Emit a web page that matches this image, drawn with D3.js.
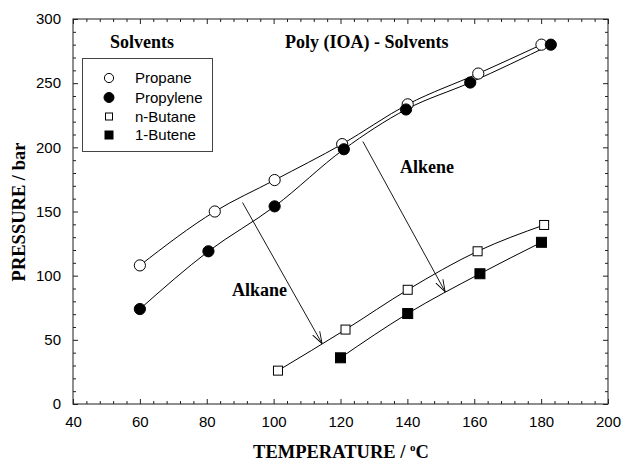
<!DOCTYPE html>
<html>
<head>
<meta charset="utf-8" />
<style>
	body { margin: 0; background: #fff; }
	.tick text { font-family: 'Liberation Sans', Arial, sans-serif; font-size: 15px; fill: #000; }
	.axis path { stroke: #444; }
	.axis line { stroke: #222; }
	.serifb { font-family: 'Liberation Serif', 'Times New Roman', serif; font-weight: bold; fill: #000; }
	.legtext { font-family: 'Liberation Sans', Arial, sans-serif; font-size: 15px; fill: #000; }
	.curve { fill: none; stroke: #000; stroke-width: 1px; }
</style>
</head>
<body>
<script src="https://cdnjs.cloudflare.com/ajax/libs/d3/7.8.5/d3.min.js"></script>
<script>

//// data ////
var propane   = [[60,108],[82.4,150],[100.3,174.5],[120.5,202.5],[140.1,233.5],[161.2,257.5],[180.1,280]];
var propylene = [[60,74],[80.5,119],[100.3,154],[121,198.5],[139.6,229.5],[158.8,250.5],[182.9,280]];
var nButane   = [[101.3,26],[121.5,58],[140.1,89],[161,119],[180.9,139.5]];
var butene1   = [[120,36],[140.1,70.5],[161.7,101.5],[180.1,126]];

var xTicks = [40, 60, 80, 100, 120, 140, 160, 180, 200];
var yTicks = [0, 50, 100, 150, 200, 250, 300];

// arrows [x1,y1,x2,y2] in data units
var arrowAlkane = [90.7, 157, 114.5, 47];
var arrowAlkene = [126.7, 204.5, 151.3, 87.5];

var width = 622, height = 463;
var svg = d3.select("body").append("svg")
	.attr("width", width)
	.attr("height", height);

var x = d3.scaleLinear().domain([40, 200]).range([73, 608]);
var y = d3.scaleLinear().domain([0, 300]).range([404, 19]);

var xMinor = d3.range(40, 201, 4).filter(function(d) { return d % 20 != 0; });
var yMinor = d3.range(0, 301, 10).filter(function(d) { return d % 50 != 0; });

// frame
svg.append("rect")
	.attr("x", x(40)).attr("y", y(300))
	.attr("width", x(200) - x(40)).attr("height", y(0) - y(300))
	.attr("fill", "none").attr("stroke", "#444").attr("stroke-width", 1.2);

// axes, ticks point inwards
function ticks(axisFn, pos, vals, size, labels) {
	var g = svg.append("g").attr("class", "axis").attr("transform", pos);
	g.call(axisFn.tickValues(vals).tickSizeInner(-size).tickSizeOuter(0)
		.tickPadding(labels ? size + 7 : 0)
		.tickFormat(labels ? d3.format("d") : ""));
	g.select(".domain").remove();
	return g;
}
ticks(d3.axisBottom(x), "translate(0," + y(0) + ")", xTicks, 5, true);
ticks(d3.axisBottom(x), "translate(0," + y(0) + ")", xMinor, 3, false);
ticks(d3.axisTop(x), "translate(0," + y(300) + ")", xTicks, 5, false);
ticks(d3.axisTop(x), "translate(0," + y(300) + ")", xMinor, 3, false);
ticks(d3.axisLeft(y), "translate(" + x(40) + ",0)", yTicks, 5, true);
ticks(d3.axisLeft(y), "translate(" + x(40) + ",0)", yMinor, 3, false);
ticks(d3.axisRight(y), "translate(" + x(200) + ",0)", yTicks, 5, false);
ticks(d3.axisRight(y), "translate(" + x(200) + ",0)", yMinor, 3, false);

// curves
var line = d3.line()
	.x(function(d) { return x(d[0]); })
	.y(function(d) { return y(d[1]); })
	.curve(d3.curveMonotoneX);

[propane, propylene, nButane, butene1].forEach(function(s) {
	svg.append("path").datum(s).attr("class", "curve").attr("d", line);
});

// arrows
svg.append("defs").append("marker")
	.attr("id", "vhead")
	.attr("viewBox", "0 0 12 10")
	.attr("refX", 12).attr("refY", 5)
	.attr("markerWidth", 12).attr("markerHeight", 10)
	.attr("markerUnits", "userSpaceOnUse")
	.attr("orient", "auto")
	.append("path")
	.attr("d", "M0,1 L12,5 L0,9")
	.attr("fill", "none").attr("stroke", "#000").attr("stroke-width", 0.9);

[arrowAlkane, arrowAlkene].forEach(function(a) {
	svg.append("line")
		.attr("x1", x(a[0])).attr("y1", y(a[1]))
		.attr("x2", x(a[2])).attr("y2", y(a[3]))
		.attr("stroke", "#000").attr("stroke-width", 0.9)
		.attr("marker-end", "url(#vhead)");
});

// markers
function circles(data, fill, r) {
	svg.append("g").selectAll("circle").data(data).enter().append("circle")
		.attr("cx", function(d) { return x(d[0]); })
		.attr("cy", function(d) { return y(d[1]); })
		.attr("r", r)
		.attr("fill", fill).attr("stroke", "#000").attr("stroke-width", 1);
}
function squares(data, fill, s) {
	svg.append("g").selectAll("rect").data(data).enter().append("rect")
		.attr("x", function(d) { return x(d[0]) - s / 2; })
		.attr("y", function(d) { return y(d[1]) - s / 2; })
		.attr("width", s).attr("height", s)
		.attr("fill", fill).attr("stroke", "#000").attr("stroke-width", 1);
}
circles(propane, "#fff", 5.6);
circles(propylene, "#000", 5.6);
squares(nButane, "#fff", 9);
squares(butene1, "#000", 10);

// legend
var leg = svg.append("g");
leg.append("rect")
	.attr("x", 82.5).attr("y", 58.5).attr("width", 130).attr("height", 93)
	.attr("fill", "#fff").attr("stroke", "#444").attr("stroke-width", 1);
var legItems = ["Propane", "Propylene", "n-Butane", "1-Butene"];
var legY = [78, 97.5, 116.5, 135];
leg.append("circle").attr("cx", 109).attr("cy", legY[0]).attr("r", 4.6)
	.attr("fill", "#fff").attr("stroke", "#000");
leg.append("circle").attr("cx", 109).attr("cy", legY[1]).attr("r", 5)
	.attr("fill", "#000").attr("stroke", "#000");
leg.append("rect").attr("x", 105.5).attr("y", legY[2] - 3.5).attr("width", 7).attr("height", 7)
	.attr("fill", "#fff").attr("stroke", "#000");
leg.append("rect").attr("x", 105).attr("y", legY[3] - 4).attr("width", 8).attr("height", 8)
	.attr("fill", "#000").attr("stroke", "#000");
legItems.forEach(function(t, i) {
	leg.append("text").attr("class", "legtext")
		.attr("x", 135).attr("y", legY[i] + 5).text(t);
});

// annotations
svg.append("text").attr("class", "serifb").attr("x", 110).attr("y", 48)
	.style("font-size", "18px").text("Solvents");
svg.append("text").attr("class", "serifb").attr("x", 285).attr("y", 48)
	.style("font-size", "18px").text("Poly (IOA) - Solvents");
svg.append("text").attr("class", "serifb").attr("x", 400).attr("y", 173)
	.style("font-size", "18px").text("Alkene");
svg.append("text").attr("class", "serifb").attr("x", 232).attr("y", 296)
	.style("font-size", "18px").text("Alkane");

// axis titles
var xt = svg.append("text").attr("class", "serifb")
	.attr("x", 341).attr("y", 458).attr("text-anchor", "middle")
	.style("font-size", "18.5px");
xt.append("tspan").text("TEMPERATURE / ");
xt.append("tspan").attr("dy", -7).style("font-size", "11px").text("o");
xt.append("tspan").attr("dy", 7).text("C");

svg.append("text").attr("class", "serifb")
	.attr("transform", "translate(25,212) rotate(-90)")
	.attr("text-anchor", "middle")
	.style("font-size", "18.5px")
	.text("PRESSURE / bar");

</script>
</body>
</html>
